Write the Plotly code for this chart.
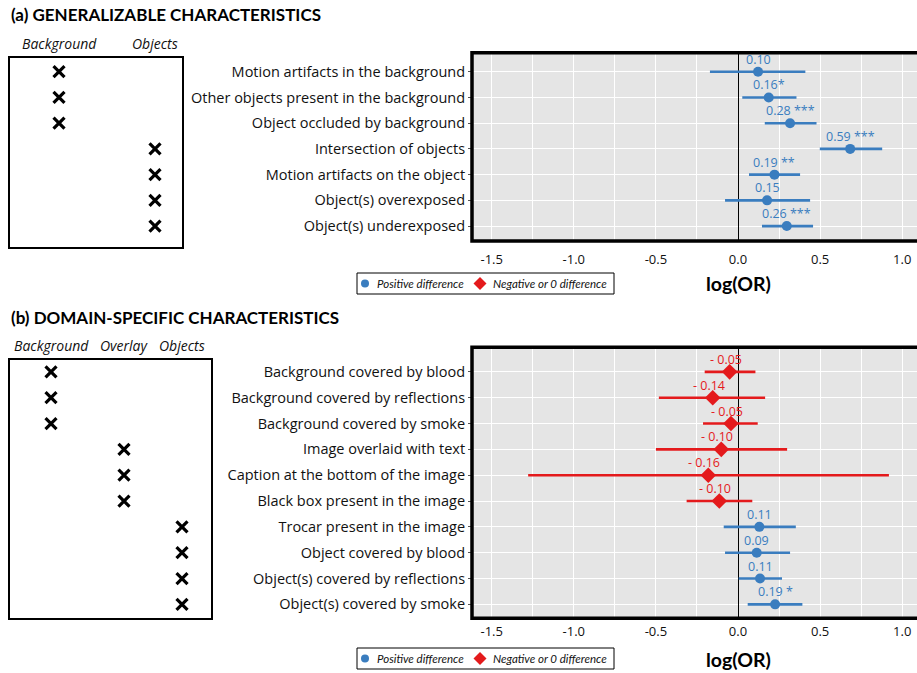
import plotly.graph_objects as go

# ---------------- data ----------------
cats_a = ["Motion artifacts in the background", "Other objects present in the background",
          "Object occluded by background", "Intersection of objects",
          "Motion artifacts on the object", "Object(s) overexposed", "Object(s) underexposed"]
group_a = ["Background", "Background", "Background", "Objects", "Objects", "Objects", "Objects"]
cols_a = ["Background", "Objects"]
est_a = [0.122, 0.187, 0.317, 0.683, 0.222, 0.177, 0.297]
lo_a = [-0.171, 0.026, 0.163, 0.498, 0.067, -0.079, 0.146]
hi_a = [0.410, 0.356, 0.478, 0.878, 0.378, 0.439, 0.457]
lab_a = ["0.10", "0.16*", "0.28 ***", "0.59 ***", "0.19 **", "0.15", "0.26 ***"]

cats_b = ["Background covered by blood", "Background covered by reflections",
          "Background covered by smoke", "Image overlaid with text",
          "Caption at the bottom of the image", "Black box present in the image",
          "Trocar present in the image", "Object covered by blood",
          "Object(s) covered by reflections", "Object(s) covered by smoke"]
group_b = ["Background", "Background", "Background", "Overlay", "Overlay", "Overlay",
           "Objects", "Objects", "Objects", "Objects"]
cols_b = ["Background", "Overlay", "Objects"]
est_b = [-0.051, -0.154, -0.043, -0.102, -0.181, -0.114, 0.130, 0.114, 0.134, 0.226]
lo_b = [-0.203, -0.482, -0.213, -0.500, -1.278, -0.313, -0.087, -0.079, 0.004, 0.059]
hi_b = [0.106, 0.165, 0.120, 0.299, 0.919, 0.087, 0.352, 0.317, 0.268, 0.392]
lab_b = ["- 0.05", "- 0.14", "- 0.05", "- 0.10", "- 0.16", "- 0.10",
         "0.11", "0.09", "0.11", "0.19 *"]

x_ticks = [-1.5, -1.0, -0.5, 0.0, 0.5, 1.0]
legend_names = ["Positive difference", "Negative or 0 difference"]

# ---------------- style ----------------
W, H = 917, 673
BLUE = "#3a7dbf"
RED = "#e41a1c"
SANS = "Open Sans"
LATO = "Lato"
TXT = "#111111"


def px(x):
    return x / W


def py(y):
    return 1 - y / H


A_TOP, A_BOT = 52.7, 241.0
B_TOP, B_BOT = 347.3, 618.3
PLOT_L = 472
XRANGE = [-1.62, 1.09]
COLX_A = [59, 155]
COLX_B = [51, 124, 182]

fig = go.Figure()
ann = []


def add_panel(cats, est, lo, hi, lab, xa, ya):
    pos = [i for i, v in enumerate(est) if v > 0]
    neg = [i for i, v in enumerate(est) if v <= 0]
    for idx, name, color, sym, size, shift in [(pos, legend_names[0], BLUE, "circle", 10, 0),
                                               (neg, legend_names[1], RED, "diamond", 12, -4)]:
        if not idx:
            continue
        fig.add_trace(go.Scatter(
            x=[est[i] for i in idx], y=[cats[i] for i in idx], mode="markers",
            marker=dict(symbol=sym, size=size, color=color),
            error_x=dict(type="data", symmetric=False,
                         array=[hi[i] - est[i] for i in idx],
                         arrayminus=[est[i] - lo[i] for i in idx],
                         color=color, thickness=2.6, width=0),
            name=name, xaxis=xa, yaxis=ya, showlegend=False, cliponaxis=False,
        ))
        for i in idx:
            ann.append(dict(text=lab[i], x=est[i], y=cats[i], xref=xa, yref=ya,
                            xanchor="center", yanchor="bottom", yshift=2, xshift=shift,
                            showarrow=False,
                            font=dict(family=SANS, size=12.5, color=color)))


add_panel(cats_a, est_a, lo_a, hi_a, lab_a, "x", "y")
add_panel(cats_b, est_b, lo_b, hi_b, lab_b, "x2", "y2")

# X-marks in the left boxes
xmark = dict(symbol="x-thin", size=11, line=dict(width=3.2, color="black"))
fig.add_trace(go.Scatter(
    x=[COLX_A[cols_a.index(g)] for g in group_a], y=cats_a, mode="markers", marker=xmark,
    xaxis="x3", yaxis="y3", showlegend=False, hoverinfo="skip"))
fig.add_trace(go.Scatter(
    x=[COLX_B[cols_b.index(g)] for g in group_b], y=cats_b, mode="markers", marker=xmark,
    xaxis="x4", yaxis="y4", showlegend=False, hoverinfo="skip"))

# legend keys (drawn on a full-figure pixel overlay axis)
LEG_L, LEG_R = 357, 614
LEG_KEYS_X = [365, 480]
LEG_TEXT_X = [375, 491]
LEG_ROWS = [(273, 294), (648, 669)]
for (t, b) in LEG_ROWS:
    yc = (t + b) / 2
    for name, color, sym, size, kx, tx in zip(legend_names, [BLUE, RED], ["circle", "diamond"],
                                              [8, 10], LEG_KEYS_X, LEG_TEXT_X):
        fig.add_trace(go.Scatter(x=[kx], y=[yc], mode="markers",
                                 marker=dict(symbol=sym, size=size, color=color),
                                 xaxis="x5", yaxis="y5", showlegend=False, hoverinfo="skip",
                                 name=name))
        ann.append(dict(text=f"<i>{name}</i>", x=px(tx), y=py(yc), xref="paper", yref="paper",
                        xanchor="left", yanchor="middle", showarrow=False,
                        font=dict(family=LATO, size=11.5, color=TXT)))


def xax(anchor, ticklen):
    return dict(domain=[px(PLOT_L), 1], range=XRANGE, anchor=anchor,
                tickvals=x_ticks, ticktext=[f"{v:.1f}" for v in x_ticks],
                tickfont=dict(family=SANS, size=13, color=TXT),
                ticks="outside", ticklen=ticklen, tickcolor="rgba(0,0,0,0)",
                showgrid=True, gridcolor="white", gridwidth=1.3,
                minor=dict(dtick=0.25, tick0=0, showgrid=True, gridcolor="white", gridwidth=0.6),
                zeroline=True, zerolinecolor="black", zerolinewidth=1.3,
                showline=False, fixedrange=True)


def yax(cats, dom, rng, anchor):
    return dict(domain=dom, type="category", categoryorder="array", categoryarray=cats,
                range=rng, anchor=anchor, tickfont=dict(family=SANS, size=14.5, color=TXT),
                ticks="outside", ticklen=3, tickcolor="#555", showgrid=True,
                gridcolor="white", gridwidth=1.3, zeroline=False, showline=False)


dom_a = [py(A_BOT), py(A_TOP)]
dom_b = [py(B_BOT), py(B_TOP)]
rng_a = [6.58, -0.74]
rng_b = [9.54, -0.95]

fig.update_layout(
    width=W, height=H, margin=dict(l=0, r=0, t=0, b=0),
    paper_bgcolor="white", plot_bgcolor="rgba(0,0,0,0)", showlegend=False,
    xaxis=xax("y", 6.5), yaxis=yax(cats_a, dom_a, rng_a, "x"),
    xaxis2=xax("y2", 1.5), yaxis2=yax(cats_b, dom_b, rng_b, "x2"),
    xaxis3=dict(domain=[0, px(PLOT_L - 80)], range=[0, PLOT_L - 80], anchor="y3", visible=False),
    yaxis3=dict(domain=dom_a, type="category", categoryorder="array", categoryarray=cats_a,
                range=rng_a, anchor="x3", visible=False),
    xaxis4=dict(domain=[0, px(PLOT_L - 80)], range=[0, PLOT_L - 80], anchor="y4", visible=False),
    yaxis4=dict(domain=dom_b, type="category", categoryorder="array", categoryarray=cats_b,
                range=rng_b, anchor="x4", visible=False),
    xaxis5=dict(domain=[0, 1], range=[0, W], anchor="y5", visible=False),
    yaxis5=dict(domain=[0, 1], range=[H, 0], anchor="x5", visible=False),
)

shapes = []
for dom in (dom_a, dom_b):
    shapes.append(dict(type="rect", xref="paper", yref="paper", x0=px(PLOT_L), x1=1,
                       y0=dom[0], y1=dom[1], fillcolor="#e5e5e5", line=dict(width=0),
                       layer="below"))
    shapes.append(dict(type="rect", xref="paper", yref="paper", x0=px(PLOT_L), x1=1.05,
                       y0=dom[0], y1=dom[1], line=dict(color="black", width=3.5),
                       layer="above"))
shapes.append(dict(type="rect", xref="paper", yref="paper", x0=px(9), x1=px(183),
                   y0=py(248), y1=py(57), line=dict(color="black", width=2)))
shapes.append(dict(type="rect", xref="paper", yref="paper", x0=px(9), x1=px(212),
                   y0=py(619), y1=py(359), line=dict(color="black", width=2)))
for (t, b) in LEG_ROWS:
    shapes.append(dict(type="rect", xref="paper", yref="paper", x0=px(LEG_L), x1=px(LEG_R),
                       y0=py(b), y1=py(t), line=dict(color="black", width=1),
                       fillcolor="white", layer="below"))
fig.update_layout(shapes=shapes)

ann.append(dict(text="<b>(a) GENERALIZABLE CHARACTERISTICS</b>", x=px(9), y=py(14),
                xref="paper", yref="paper", xanchor="left", yanchor="middle", showarrow=False,
                font=dict(family=LATO, size=17, color="black")))
ann.append(dict(text="<b>(b) DOMAIN-SPECIFIC CHARACTERISTICS</b>", x=px(9), y=py(317),
                xref="paper", yref="paper", xanchor="left", yanchor="middle", showarrow=False,
                font=dict(family=LATO, size=17, color="black")))
for cols, colx, ycen in ((cols_a, COLX_A, 44), (cols_b, COLX_B, 346)):
    for c, cx in zip(cols, colx):
        ann.append(dict(text=f"<i>{c}</i>", x=px(cx), y=py(ycen), xref="paper", yref="paper",
                        xanchor="center", yanchor="middle", showarrow=False,
                        font=dict(family=SANS, size=14, color=TXT)))
for ycen in (283, 659):
    ann.append(dict(text="<b>log(OR)</b>", x=px(738), y=py(ycen), xref="paper", yref="paper",
                    xanchor="center", yanchor="middle", showarrow=False,
                    font=dict(family=LATO, size=19.5, color="black")))
fig.update_layout(annotations=ann)

fig.write_html("out.html", post_script="document.body.style.margin='0';",
               config={"displayModeBar": False})
